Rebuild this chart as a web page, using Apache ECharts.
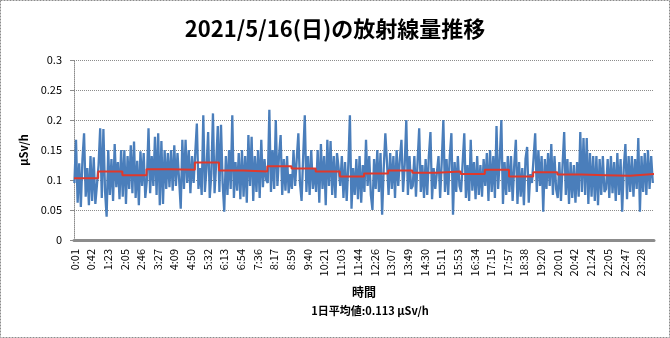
<!DOCTYPE html>
<html><head><meta charset="utf-8">
<script src="https://cdn.jsdelivr.net/npm/echarts@6/dist/echarts.min.js"></script>
<style>html,body{margin:0;padding:0;background:#fff}#c{width:670px;height:338px}</style>
</head><body><div id="c"></div>
<script>
const titleText = '2021/5/16(日)の放射線量推移';
const yAxisName = 'μSv/h';
const xAxisName = '時間';
const averageText = '1日平均値:0.113 μSv/h';

const tickLabels = ['0:01','0:42','1:23','2:05','2:46','3:27','4:09','4:50','5:32','6:13','6:54','7:36','8:17','8:59','9:40','10:21','11:03','11:44','12:26','13:07','13:49','14:30','15:11','15:53','16:34','17:15','17:57','18:38','19:20','20:01','20:42','21:24','22:05','22:47','23:28'];

// readings (μSv/h), one every 4 minutes starting at 0:01
const firstSampleMinute = 1;
const sampleStepMinutes = 4;
const dose00to05 = [
0.095,0.167,0.062,0.128,0.055,0.135,0.178,0.072,0.120,0.058,0.140,0.065,0.138,0.060,0.092,
0.125,0.186,0.070,0.185,0.082,0.039,0.150,0.075,0.135,0.065,0.160,0.088,0.130,0.068,0.150,
0.072,0.150,0.060,0.140,0.085,0.158,0.078,0.164,0.070,0.132,0.058,0.148,0.090,0.145,0.070,
0.100,0.186,0.078,0.140,0.090,0.172,0.075,0.178,0.058,0.165,0.060,0.150,0.085,0.145,0.088,
0.150,0.082,0.158,0.090,0.145,0.100,0.052,0.167,0.085,0.167,0.095,0.150,0.078,0.140,0.095,
0.098,0.194,0.085,0.120,0.075,0.208,0.080,0.120,0.180,0.070,0.110,0.211,0.078,0.128,0.190];
const dose06to11 = [
0.080,0.192,0.095,0.047,0.140,0.075,0.150,0.085,0.208,0.070,0.130,0.082,0.145,0.068,0.150,
0.072,0.140,0.062,0.175,0.090,0.172,0.065,0.140,0.080,0.150,0.070,0.167,0.088,0.135,0.100,
0.095,0.217,0.080,0.150,0.085,0.200,0.090,0.140,0.175,0.075,0.135,0.082,0.140,0.078,0.110,
0.085,0.150,0.090,0.135,0.178,0.095,0.065,0.140,0.208,0.080,0.140,0.075,0.150,0.085,0.120,
0.080,0.150,0.062,0.160,0.085,0.140,0.058,0.167,0.090,0.165,0.075,0.140,0.070,0.145,0.120,
0.090,0.140,0.070,0.130,0.065,0.125,0.208,0.052,0.120,0.075,0.135,0.068,0.140,0.062,0.125];
const dose12to17 = [
0.080,0.167,0.090,0.140,0.075,0.050,0.135,0.085,0.150,0.080,0.145,0.042,0.120,0.178,0.130,
0.075,0.145,0.085,0.140,0.070,0.150,0.090,0.135,0.167,0.080,0.125,0.200,0.075,0.140,0.085,
0.090,0.140,0.072,0.130,0.186,0.080,0.125,0.070,0.135,0.075,0.140,0.180,0.068,0.120,0.085,
0.085,0.140,0.070,0.130,0.200,0.080,0.135,0.075,0.140,0.178,0.042,0.130,0.080,0.140,0.090,
0.080,0.130,0.178,0.070,0.125,0.065,0.167,0.082,0.130,0.068,0.140,0.075,0.125,0.072,0.135,
0.090,0.145,0.065,0.150,0.080,0.140,0.070,0.190,0.085,0.135,0.200,0.060,0.130,0.075,0.140];
const dose18to23 = [
0.080,0.140,0.065,0.125,0.167,0.060,0.130,0.072,0.120,0.058,0.135,0.155,0.062,0.110,0.095,
0.095,0.178,0.080,0.150,0.090,0.140,0.047,0.135,0.085,0.145,0.090,0.160,0.075,0.140,0.085,
0.070,0.130,0.065,0.125,0.180,0.075,0.135,0.060,0.130,0.070,0.125,0.062,0.130,0.072,0.180,
0.080,0.170,0.075,0.170,0.060,0.145,0.072,0.140,0.065,0.140,0.058,0.135,0.075,0.140,0.080,
0.085,0.135,0.070,0.140,0.078,0.130,0.065,0.145,0.075,0.135,0.047,0.120,0.160,0.068,0.140,
0.080,0.140,0.072,0.135,0.085,0.170,0.047,0.140,0.080,0.145,0.075,0.150,0.085,0.140,0.095];

// hourly averages (μSv/h), hours 0..23
const hourlyAvg = [0.103,0.114,0.108,0.118,0.117,0.129,0.116,0.114,0.123,0.119,0.114,0.106,0.111,0.116,0.112,0.114,0.110,0.117,0.106,0.113,0.109,0.108,0.107,0.110];

const toMinutes = s => { const p = s.split(':'); return (+p[0]) * 60 + (+p[1]); };
const tickMinutes = tickLabels.map(toMinutes);
const labelByMinute = {};
tickLabels.forEach((l, i) => { labelByMinute[tickMinutes[i]] = l; });

const doseAll = dose00to05.concat(dose06to11, dose12to17, dose18to23);
const blueData = doseAll.map((v, i) => [firstSampleMinute + i * sampleStepMinutes, v]);
const redData = hourlyAvg.map((v, h) => [h * 60, v]);
redData.push([24 * 60, hourlyAvg[hourlyAvg.length - 1]]);

const chart = echarts.init(document.getElementById('c'), null, {renderer: 'canvas'});
chart.setOption({
  animation: false,
  backgroundColor: '#ffffff',
  title: {
    text: titleText, left: 'center', top: 13,
    textStyle: {fontFamily: 'Noto Sans CJK JP', fontSize: 22, fontWeight: 'bold', color: '#000'}
  },
  grid: {left: 74, right: 16, top: 60, bottom: 98, outerBoundsMode: 'none', containLabel: false},
  xAxis: {
    type: 'value', min: 0, max: 1440,
    name: xAxisName, nameLocation: 'middle', nameGap: 46,
    nameTextStyle: {fontFamily: 'Noto Sans CJK JP', fontSize: 12, fontWeight: 'bold', color: '#000'},
    axisLine: {show: true, lineStyle: {color: '#8c8c8c', width: 3}},
    axisTick: {show: false},
    splitLine: {show: false},
    axisLabel: {
      customValues: tickMinutes, rotate: 90, margin: 9,
      fontFamily: 'Noto Sans CJK JP', fontSize: 11, color: '#000',
      formatter: v => labelByMinute[v] || ''
    }
  },
  yAxis: {
    type: 'value', min: 0, max: 0.3, interval: 0.05,
    name: yAxisName, nameLocation: 'middle', nameGap: 40, nameRotate: 90,
    nameTextStyle: {fontFamily: 'Noto Sans CJK JP', fontSize: 11, fontWeight: 'bold', color: '#000'},
    axisLine: {show: true, lineStyle: {color: '#8c8c8c', width: 1, type: [1, 1]}},
    axisTick: {show: true, length: 4, lineStyle: {color: '#8c8c8c'}},
    splitLine: {show: true, lineStyle: {color: '#8c8c8c', width: 1, type: [1, 1]}},
    axisLabel: {margin: 12, fontFamily: 'Noto Sans CJK JP', fontSize: 11, color: '#000'}
  },
  series: [
    {type: 'line', data: blueData, showSymbol: false, symbol: 'none',
     lineStyle: {color: '#4a7ebb', width: 2.3}, z: 2},
    {type: 'line', data: redData, step: 'end', showSymbol: false, symbol: 'none',
     lineStyle: {color: '#e0382b', width: 2}, z: 3}
  ],
  graphic: [
    {type: 'rect', shape: {x: 0.5, y: 0.5, width: 669, height: 337},
     style: {fill: null, stroke: '#8c8c8c', lineWidth: 1, lineDash: [2, 1]}, silent: true},
    {type: 'text', x: 370, y: 311,
     style: {text: averageText, align: 'center', verticalAlign: 'middle',
       fontFamily: 'Noto Sans CJK JP', fontSize: 11, fontWeight: 'bold', fill: '#000'}}
  ]
});
</script></body></html>
